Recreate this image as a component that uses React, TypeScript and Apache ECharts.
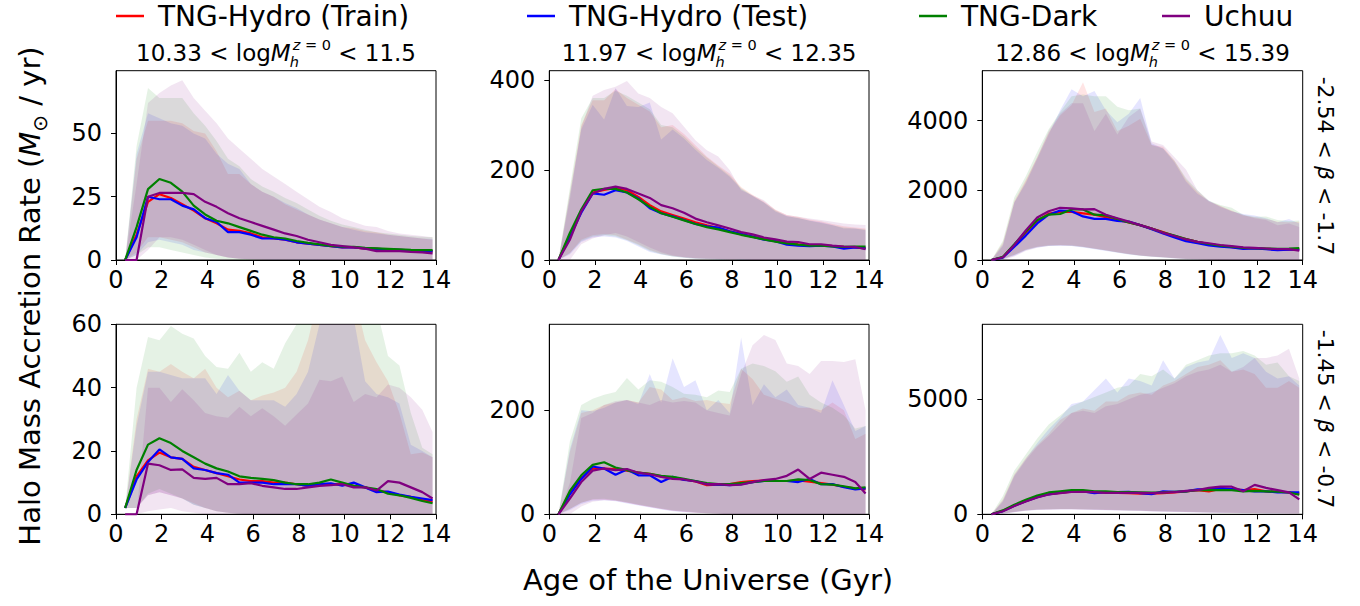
import React, { useEffect, useRef } from 'react';
import * as echarts from 'echarts';

// ---------- data ----------
const NAMES = ['TNG-Hydro (Train)', 'TNG-Hydro (Test)', 'TNG-Dark', 'Uchuu'];
const COLORS = ['#ff0000', '#0000ff', '#008000', '#800080'];
const BAND_COLORS = ['rgba(255,0,0,0.1)', 'rgba(0,0,255,0.1)', 'rgba(0,128,0,0.1)', 'rgba(128,0,128,0.1)'];

// Age of the Universe (Gyr)
const X = [0.4, 0.9, 1.4, 1.9, 2.4, 2.9, 3.4, 3.9, 4.4, 4.9, 5.4, 5.9, 6.4, 6.9, 7.4, 7.9, 8.4, 8.9, 9.4, 9.9, 10.4, 10.9, 11.4, 11.9, 12.4, 12.9, 13.4, 13.85];
const X_TICKS = [0, 2, 4, 6, 8, 10, 12, 14];

const COL_TITLES = [['10.33', '11.5'], ['11.97', '12.35'], ['12.86', '15.39']];
const ROW_LABELS = [['-2.54', '-1.7'], ['-1.45', '-0.7']];
const Y_MAX = [74.8, 420.7, 5432, 60, 365.4, 8261];
const Y_TICKS = [[0, 25, 50], [0, 200, 400], [0, 2000, 4000], [0, 20, 40, 60], [0, 200], [0, 5000]];

// Panel 1: 10.33 < logM < 11.5, -2.54 < beta < -1.7
const p1Train = [0, 10, 23, 26, 24.5, 22, 19.5, 16.5, 14.5, 12, 11.5, 10.5, 9, 8.5, 8, 7, 6.5, 6, 5.5, 5, 5, 4.5, 4.5, 4, 4, 3.8, 3.6, 3.4];
const p1Test = [0, 9, 25, 24, 24, 21.5, 20, 16.5, 15, 11, 11, 10, 8.5, 8.5, 8, 7, 6.5, 6, 5.5, 5, 5, 4.6, 4.4, 4.2, 4, 3.8, 3.6, 3.5];
const p1Dark = [0, 13, 28, 32, 30.5, 27, 21.5, 18, 15.5, 14.5, 13, 11.5, 10, 9, 8.5, 7.5, 6.8, 6.2, 5.6, 5.3, 5.2, 4.8, 4.6, 4.4, 4.2, 4, 3.9, 3.9];
const p1Uchuu = [0, 0, 25, 26.5, 26.5, 26.5, 26, 23, 21, 18.5, 16.5, 15, 13.5, 12, 10.5, 9.5, 8, 7, 6, 5.5, 5, 4.5, 3.5, 3.5, 3.5, 3.2, 3, 2.6];
const p1TrainHi = [0, 40, 55, 55, 55, 54, 51, 50, 43, 34, 34, 30, 27, 25, 22, 20, 18, 16, 14.5, 13, 12.5, 11.5, 11, 10, 9.5, 9, 8.5, 8];
const p1TrainLo = [0, 3, 9, 9, 8, 7, 5, 3, 2, 1, 0.5, 0.3, 0.2, 0.2, 0.1, 0.1, 0.1, 0, 0, 0, 0, 0, 0, 0, 0, 0, 0, 0];
const p1TestHi = [0, 42, 58, 56, 54, 53, 50, 48, 42, 38, 36, 30, 27, 25, 22.5, 20.5, 18, 16, 14.5, 13, 12, 11, 10.5, 10, 9.5, 9, 8.5, 8.3];
const p1TestLo = [0, 2, 7, 8, 7, 6, 4, 3, 2, 1, 0.5, 0.3, 0.2, 0.1, 0.1, 0, 0, 0, 0, 0, 0, 0, 0, 0, 0, 0, 0, 0];
const p1DarkHi = [0, 45, 68, 64, 64, 64, 58, 53, 47, 40, 37, 32, 29, 27, 24.5, 22.5, 20, 17.5, 15.5, 14, 13, 12, 11, 10.5, 10, 9.5, 9.2, 9];
const p1DarkLo = [0, 2, 5, 5, 4, 3, 2, 1, 0.5, 0.3, 0, 0, 0, 0, 0, 0, 0, 0, 0, 0, 0, 0, 0, 0, 0, 0, 0, 0];
const p1UchuuHi = [0, 30, 62, 66, 69, 71, 64, 59, 54, 48, 44, 40, 36, 33, 30, 27, 24, 21, 19, 16.5, 15, 13.5, 13, 11.5, 10.5, 10, 9.5, 9];
const p1UchuuLo = [0, 0, 4, 9, 9, 8, 6, 4, 2, 1, 0.5, 0.2, 0, 0, 0, 0, 0, 0, 0, 0, 0, 0, 0, 0, 0, 0, 0, 0];

// Panel 2: 11.97 < logM < 12.35, -2.54 < beta < -1.7
const p2Train = [0, 55, 108, 150, 156, 160, 155, 140, 122, 108, 100, 92, 84, 77, 71, 64, 57, 52, 47, 42, 38, 35, 33, 33, 31, 29, 28, 27];
const p2Test = [0, 52, 105, 148, 145, 155, 150, 137, 115, 104, 97, 89, 80, 75, 72, 64, 58, 52, 45, 42, 34, 32, 31, 32, 30, 25, 28, 26];
const p2Dark = [0, 60, 112, 155, 158, 158, 150, 135, 118, 104, 96, 88, 80, 73, 68, 62, 56, 51, 46, 41, 37, 34, 32, 32, 30, 29, 30, 30];
const p2Uchuu = [0, 45, 108, 148, 158, 163, 158, 148, 138, 122, 115, 105, 92, 84, 77, 70, 62, 57, 50, 46, 41, 40, 35, 35, 32, 30, 29, 24];
const p2TrainHi = [0, 150, 300, 355, 355, 380, 360, 345, 330, 295, 300, 280, 255, 230, 210, 192, 162, 145, 130, 112, 100, 96, 90, 86, 80, 75, 72, 70];
const p2TrainLo = [0, 15, 45, 55, 58, 55, 45, 35, 22, 14, 9, 6, 4, 3, 2, 1, 1, 0, 0, 0, 0, 0, 0, 0, 0, 0, 0, 0];
const p2TestHi = [0, 145, 290, 345, 312, 382, 342, 340, 350, 268, 290, 270, 245, 222, 205, 185, 158, 142, 128, 108, 98, 93, 88, 84, 78, 70, 70, 66];
const p2TestLo = [0, 12, 40, 50, 52, 50, 42, 30, 18, 12, 8, 5, 3, 2, 1, 1, 0, 0, 0, 0, 0, 0, 0, 0, 0, 0, 0, 0];
const p2DarkHi = [0, 160, 315, 360, 360, 376, 365, 350, 335, 300, 295, 275, 250, 228, 208, 188, 160, 143, 128, 110, 97, 94, 87, 82, 77, 72, 70, 68];
const p2DarkLo = [0, 15, 42, 52, 55, 52, 44, 33, 20, 13, 8, 5, 3, 2, 1, 1, 0, 0, 0, 0, 0, 0, 0, 0, 0, 0, 0, 0];
const p2UchuuHi = [0, 135, 295, 365, 378, 385, 398, 370, 360, 340, 326, 296, 266, 244, 230, 200, 155, 144, 133, 111, 100, 96, 92, 89, 85, 81, 79, 78];
const p2UchuuLo = [0, 0, 35, 48, 55, 60, 52, 40, 28, 17, 10, 6, 4, 3, 2, 1, 1, 0, 0, 0, 0, 0, 0, 0, 0, 0, 0, 0];

// Panel 3: 12.86 < logM < 15.39, -2.54 < beta < -1.7
const p3Train = [0, 80, 420, 780, 1120, 1330, 1380, 1380, 1340, 1300, 1230, 1150, 1080, 1000, 900, 800, 690, 600, 520, 460, 410, 370, 340, 330, 320, 300, 300, 310];
const p3Test = [0, 70, 380, 700, 1050, 1300, 1420, 1400, 1250, 1180, 1180, 1120, 1100, 1000, 880, 760, 650, 540, 480, 420, 380, 360, 320, 330, 310, 280, 300, 300];
const p3Dark = [0, 90, 450, 820, 1150, 1300, 1320, 1450, 1450, 1300, 1280, 1180, 1080, 1000, 900, 790, 700, 600, 520, 460, 410, 380, 350, 340, 330, 320, 330, 340];
const p3Uchuu = [0, 80, 430, 850, 1220, 1400, 1500, 1480, 1450, 1460, 1300, 1200, 1100, 1000, 900, 780, 690, 590, 520, 480, 430, 400, 360, 350, 330, 310, 310, 270];
const p3TrainHi = [0, 500, 1700, 2300, 2950, 3650, 4150, 4450, 5100, 4250, 4350, 3700, 3850, 4050, 3300, 3250, 2850, 2300, 1950, 1680, 1550, 1420, 1280, 1230, 1180, 1100, 1080, 1100];
const p3TrainLo = [0, 30, 150, 300, 380, 420, 430, 420, 380, 330, 280, 220, 170, 130, 100, 80, 50, 30, 20, 10, 0, 0, 0, 0, 0, 0, 0, 0];
const p3TestHi = [0, 450, 1650, 2200, 2900, 3600, 4300, 4900, 4700, 4850, 4300, 3950, 4200, 4650, 3350, 3200, 2800, 2250, 1900, 1700, 1520, 1400, 1320, 1280, 1200, 1080, 1180, 1050];
const p3TestLo = [0, 20, 120, 280, 360, 400, 410, 400, 360, 310, 260, 210, 160, 120, 90, 70, 45, 25, 15, 8, 0, 0, 0, 0, 0, 0, 0, 0];
const p3DarkHi = [0, 550, 1800, 2400, 3100, 3750, 4250, 4700, 4750, 4700, 4700, 4400, 4300, 4350, 3300, 3200, 2850, 2350, 2000, 1700, 1580, 1500, 1300, 1240, 1250, 1150, 1120, 1130];
const p3DarkLo = [0, 30, 140, 290, 370, 410, 420, 410, 370, 320, 270, 215, 165, 125, 95, 75, 50, 28, 18, 9, 0, 0, 0, 0, 0, 0, 0, 0];
const p3UchuuHi = [0, 400, 1650, 2250, 2950, 3700, 4200, 4500, 4500, 3700, 4200, 3600, 4100, 4350, 3400, 3300, 2950, 2600, 2000, 1700, 1550, 1400, 1300, 1200, 1150, 1000, 1050, 950];
const p3UchuuLo = [0, 0, 100, 260, 350, 400, 410, 400, 370, 320, 270, 220, 170, 130, 100, 80, 55, 35, 20, 10, 0, 0, 0, 0, 0, 0, 0, 0];

// Panel 4: 10.33 < logM < 11.5, -1.45 < beta < -0.7
const p4Train = [2, 12, 17, 19.5, 18, 17.5, 15, 14, 13, 12, 11, 10.5, 10.5, 10, 10, 9.5, 9, 9.5, 9.5, 9.5, 9, 8.5, 7.5, 7, 6, 5.5, 4.5, 4];
const p4Test = [2, 11, 16.5, 20.5, 18, 17.5, 14.5, 14, 13, 12.5, 10, 10, 10, 9.5, 9.5, 9.5, 9, 9.5, 9.8, 9, 10, 8.5, 7, 7.2, 6.2, 5.5, 5, 4.5];
const p4Dark = [2, 14, 22, 24, 22.5, 20, 18, 16, 14.5, 13.5, 12, 11.5, 11.2, 10.8, 10, 9.5, 9.5, 10, 11, 10, 9, 8.5, 8, 6.5, 6, 5.2, 4.2, 3.5];
const p4Uchuu = [0, 0, 16, 15.5, 14, 14.2, 11.5, 11.2, 11.5, 9.5, 9.5, 9.8, 9, 8.5, 8, 8, 8.5, 9, 9.2, 9.5, 8.5, 8.5, 7.5, 10.5, 10, 8.5, 7, 5];
const p4TrainHi = [2, 30, 46, 45, 47.5, 45, 43, 46, 40, 37, 39, 36, 37.5, 38.5, 40, 45, 55, 70, 80, 80, 70, 55, 48, 42, 32, 19, 19.5, 18];
const p4TrainLo = [2, 2, 6, 7, 6, 5, 3.5, 2, 1, 0.5, 0.2, 0, 0, 0, 0, 0, 0, 0, 0, 0, 0, 0, 0, 0, 0, 0, 0, 0];
const p4TestHi = [2, 28, 45, 45, 44, 43, 43, 43, 38, 44, 39, 36, 36, 36, 34, 38, 45, 60, 70, 75, 62, 42, 38, 37, 35, 22, 20, 18];
const p4TestLo = [2, 2, 6, 7, 6, 5, 3, 2, 1, 0.5, 0.2, 0, 0, 0, 0, 0, 0, 0, 0, 0, 0, 0, 0, 0, 0, 0, 0, 0];
const p4DarkHi = [2, 40, 56, 55, 59.5, 57, 55.5, 50, 46.5, 46, 51, 45, 48, 46, 54, 60, 70, 80, 85, 85, 80, 75, 65, 50, 47, 32, 21, 19];
const p4DarkLo = [2, 2, 6.5, 8, 6.5, 5, 3, 2, 1, 0.5, 0, 0, 0, 0, 0, 0, 0, 0, 0, 0, 0, 0, 0, 0, 0, 0, 0, 0];
const p4UchuuHi = [0, 0, 40, 40, 35.5, 39.5, 36, 32, 31, 30.5, 34, 31, 33.5, 31, 28, 31.5, 35, 42.5, 42, 43.5, 35.5, 38, 37, 41, 40, 37, 33, 26];
const p4UchuuLo = [0, 0, 1, 1.5, 2, 1, 0.5, 0, 0, 0, 0, 0, 0, 0, 0, 0, 0, 0, 0, 0, 0, 0, 0, 0, 0, 0, 0, 0];

// Panel 5: 11.97 < logM < 12.35, -1.45 < beta < -0.7
const p5Train = [0, 42, 70, 88, 88, 87, 84, 80, 78, 73, 70, 67, 63, 56, 57, 58, 62, 64, 65, 64, 64, 65, 63, 60, 57, 53, 50, 48];
const p5Test = [0, 38, 68, 92, 88, 76, 86, 75, 75, 62, 72, 66, 64, 58, 57, 56, 58, 62, 64, 64, 64, 62, 68, 58, 58, 52, 48, 50];
const p5Dark = [0, 45, 75, 95, 100, 90, 85, 80, 78, 74, 72, 68, 64, 60, 58, 58, 60, 62, 64, 64, 64, 67, 66, 58, 57, 54, 50, 52];
const p5Uchuu = [0, 30, 62, 84, 88, 85, 87, 80, 77, 72, 68, 67, 63, 58, 58, 56, 57, 62, 66, 68, 74, 86, 68, 80, 76, 72, 62, 40];
const p5TrainHi = [0, 120, 195, 200, 210, 215, 220, 215, 245, 240, 220, 225, 218, 220, 215, 212, 280, 260, 230, 222, 215, 205, 205, 200, 215, 200, 145, 155];
const p5TrainLo = [0, 10, 22, 28, 28, 26, 22, 18, 14, 10, 7, 5, 3, 2, 1, 0, 0, 0, 0, 0, 0, 0, 0, 0, 0, 0, 0, 0];
const p5TestHi = [0, 125, 200, 198, 205, 215, 220, 212, 270, 215, 300, 245, 258, 200, 220, 195, 340, 210, 250, 225, 240, 210, 205, 195, 258, 210, 160, 170];
const p5TestLo = [0, 8, 20, 26, 27, 25, 21, 17, 13, 9, 6, 4, 3, 2, 1, 0, 0, 0, 0, 0, 0, 0, 0, 0, 0, 0, 0, 0];
const p5DarkHi = [0, 140, 210, 222, 230, 235, 262, 240, 258, 255, 245, 232, 230, 225, 238, 235, 280, 290, 285, 275, 255, 265, 230, 215, 205, 190, 165, 170];
const p5DarkLo = [0, 10, 22, 29, 30, 27, 23, 19, 15, 11, 8, 6, 4, 2, 1, 0, 0, 0, 0, 0, 0, 0, 0, 0, 0, 0, 0, 0];
const p5UchuuHi = [0, 60, 185, 195, 210, 218, 220, 215, 210, 220, 215, 218, 215, 200, 195, 190, 270, 325, 345, 335, 290, 285, 270, 295, 295, 293, 298, 200];
const p5UchuuLo = [0, 0, 15, 24, 27, 26, 22, 18, 14, 10, 7, 5, 3, 2, 1, 0, 0, 0, 0, 0, 0, 0, 0, 0, 0, 0, 0, 0];

// Panel 6: 12.86 < logM < 15.39, -1.45 < beta < -0.7
const p6Train = [0, 150, 380, 580, 750, 880, 930, 980, 990, 950, 950, 930, 920, 900, 900, 920, 950, 1000, 1050, 1000, 1100, 1100, 1050, 1100, 1000, 980, 950, 900];
const p6Test = [0, 140, 370, 570, 740, 870, 940, 990, 1000, 920, 960, 960, 980, 920, 880, 1000, 980, 1000, 1080, 1100, 1150, 1100, 1050, 1000, 1000, 950, 950, 950];
const p6Dark = [0, 170, 420, 630, 820, 950, 1000, 1050, 1050, 1000, 1000, 970, 960, 950, 940, 950, 980, 1000, 1050, 1050, 1050, 1050, 1000, 1020, 1000, 980, 950, 850];
const p6Uchuu = [0, 130, 360, 560, 730, 860, 920, 970, 980, 960, 930, 930, 930, 930, 920, 940, 960, 1020, 1050, 1150, 1200, 1200, 1000, 1280, 1150, 1050, 950, 650];
const p6TrainHi = [0, 650, 1750, 2450, 3000, 3500, 4100, 4400, 4600, 4500, 4900, 4900, 5200, 5300, 5200, 5600, 5800, 6100, 6400, 6500, 6700, 6200, 6300, 6100, 5500, 5500, 5800, 5500];
const p6TrainLo = [0, 30, 100, 160, 200, 210, 220, 220, 210, 200, 190, 180, 160, 150, 130, 120, 110, 100, 90, 80, 70, 60, 60, 50, 50, 50, 40, 40];
const p6TestHi = [0, 600, 1700, 2400, 3100, 3700, 4200, 4800, 4900, 5400, 5900, 5300, 5900, 5800, 5600, 6700, 5900, 6400, 6600, 6700, 7800, 6800, 7000, 6800, 6200, 5900, 6000, 5600];
const p6TestLo = [0, 25, 90, 150, 190, 200, 210, 210, 200, 190, 180, 170, 150, 140, 120, 110, 100, 90, 80, 70, 60, 60, 50, 50, 40, 40, 40, 30];
const p6DarkHi = [0, 800, 1900, 2600, 3300, 3900, 4300, 4700, 4900, 5100, 5300, 5500, 5600, 6100, 6000, 6300, 5900, 6500, 6700, 6900, 7000, 7000, 7100, 6900, 6500, 6600, 6000, 5800];
const p6DarkLo = [0, 35, 110, 170, 210, 220, 230, 230, 220, 210, 200, 190, 170, 160, 140, 130, 120, 110, 100, 90, 80, 70, 60, 60, 50, 50, 50, 40];
const p6UchuuHi = [0, 550, 1650, 2350, 2950, 3400, 3900, 4400, 4500, 4400, 4700, 4800, 5000, 5200, 5300, 5500, 5700, 6000, 6200, 6300, 6500, 6200, 6400, 6800, 6800, 6900, 7200, 5900];
const p6UchuuLo = [0, 20, 90, 150, 200, 210, 220, 220, 210, 200, 190, 180, 160, 150, 130, 120, 110, 100, 90, 80, 70, 70, 60, 60, 50, 50, 40, 40];

const PANELS = [
  { med: [p1Train, p1Test, p1Dark, p1Uchuu], lo: [p1TrainLo, p1TestLo, p1DarkLo, p1UchuuLo], hi: [p1TrainHi, p1TestHi, p1DarkHi, p1UchuuHi] },
  { med: [p2Train, p2Test, p2Dark, p2Uchuu], lo: [p2TrainLo, p2TestLo, p2DarkLo, p2UchuuLo], hi: [p2TrainHi, p2TestHi, p2DarkHi, p2UchuuHi] },
  { med: [p3Train, p3Test, p3Dark, p3Uchuu], lo: [p3TrainLo, p3TestLo, p3DarkLo, p3UchuuLo], hi: [p3TrainHi, p3TestHi, p3DarkHi, p3UchuuHi] },
  { med: [p4Train, p4Test, p4Dark, p4Uchuu], lo: [p4TrainLo, p4TestLo, p4DarkLo, p4UchuuLo], hi: [p4TrainHi, p4TestHi, p4DarkHi, p4UchuuHi] },
  { med: [p5Train, p5Test, p5Dark, p5Uchuu], lo: [p5TrainLo, p5TestLo, p5DarkLo, p5UchuuLo], hi: [p5TrainHi, p5TestHi, p5DarkHi, p5UchuuHi] },
  { med: [p6Train, p6Test, p6Dark, p6Uchuu], lo: [p6TrainLo, p6TestLo, p6DarkLo, p6UchuuLo], hi: [p6TrainHi, p6TestHi, p6DarkHi, p6UchuuHi] },
];

// ---------- layout ----------
const FONT = "'DejaVu Sans', sans-serif";
const GRID_BOXES = [
  [116, 70.7, 320, 189.3], [549.3, 70.7, 319.7, 189.3], [982.3, 70.7, 320.4, 189.3],
  [116, 324.3, 320, 190], [549.3, 324.3, 319.7, 190], [982.3, 324.3, 320.4, 190],
];
const LEGEND_LEFT = [116, 527, 919, 1162];

let measureCtx: CanvasRenderingContext2D | null = null;
function tw(text: string, size: number, italic = false) {
  if (!measureCtx) measureCtx = document.createElement('canvas').getContext('2d');
  measureCtx!.font = `${italic ? 'italic ' : ''}${size}px 'DejaVu Sans'`;
  return measureCtx!.measureText(text).width;
}

function txt(x: number, y: number, text: string, size: number, italic = false) {
  return {
    type: 'text', x, y, silent: true,
    style: { text, fontSize: size, fontFamily: FONT, fontStyle: italic ? 'italic' : 'normal', fill: '#000', align: 'left', verticalAlign: 'middle' },
  };
}

function titleElements(cx: number, cy: number, lo: string, hi: string) {
  const S = 23, s = 14.5;
  const p1 = `${lo} < log`;
  const p5 = ` < ${hi}`;
  const w1 = tw(p1, S), wM = tw('M', S, true);
  const wSup = tw('z', s, true) + tw(' = 0', s);
  const wSub = tw('h', s, true);
  const w5 = tw(p5, S);
  const scriptW = Math.max(wSup + 2, wSub);
  const W = w1 + wM + scriptW + w5;
  const x0 = cx - W / 2;
  return [
    txt(x0, cy, p1, S),
    txt(x0 + w1, cy, 'M', S, true),
    {
      type: 'text', x: x0 + w1 + wM + 2, y: cy - 7.5, silent: true,
      style: {
        text: '{i|z}{n| = 0}', align: 'left', verticalAlign: 'middle', fill: '#000',
        rich: {
          i: { fontSize: s, fontFamily: FONT, fontStyle: 'italic', fill: '#000' },
          n: { fontSize: s, fontFamily: FONT, fill: '#000' },
        },
      },
    },
    txt(x0 + w1 + wM - 1, cy + 9.5, 'h', s, true),
    txt(x0 + w1 + wM + scriptW, cy, p5, S),
  ];
}

function rowLabel(cx: number, cy: number, lo: string, hi: string) {
  return {
    type: 'text', x: cx, y: cy, rotation: -Math.PI / 2, silent: true,
    style: {
      text: `{n|${lo} < }{b|β}{n| < ${hi}}`, align: 'center', verticalAlign: 'middle', fill: '#000',
      rich: {
        n: { fontSize: 22, fontFamily: FONT, fill: '#000' },
        b: { fontSize: 22, fontFamily: FONT, fontStyle: 'italic', fill: '#000' },
      },
    },
  };
}

function bandSeries(gi: number, lo: number[], hi: number[], color: string) {
  return {
    type: 'custom', xAxisIndex: gi, yAxisIndex: gi, silent: true, z: 1, clip: true,
    data: [[0, 0]],
    renderItem: (params: any, api: any) => {
      const pts: number[][] = [];
      for (let i = 0; i < X.length; i++) pts.push(api.coord([X[i], hi[i]]));
      for (let i = X.length - 1; i >= 0; i--) pts.push(api.coord([X[i], lo[i]]));
      const cs = params.coordSys;
      return {
        type: 'polygon',
        shape: { points: pts },
        style: { fill: color, stroke: 'none' },
        clipPath: { type: 'rect', shape: { x: cs.x, y: cs.y, width: cs.width, height: cs.height } },
      };
    },
  };
}

function buildOption() {
  const grid = GRID_BOXES.map(([l, t, w, h]) => ({
    left: l, top: t, width: w, height: h, show: true, borderColor: '#000', borderWidth: 1, backgroundColor: 'transparent',
  }));
  const xAxis = GRID_BOXES.map((_, gi) => ({
    type: 'value', gridIndex: gi, min: 0, max: 14, interval: 2,
    axisLine: { show: true, onZero: false, lineStyle: { color: '#000', width: 1 } },
    axisTick: { show: true, length: 5, customValues: X_TICKS, lineStyle: { color: '#000' } },
    axisLabel: { fontSize: 24, fontFamily: FONT, color: '#000', margin: 8, customValues: X_TICKS },
    splitLine: { show: false },
  }));
  const yAxis = GRID_BOXES.map((_, gi) => ({
    type: 'value', gridIndex: gi, min: 0, max: Y_MAX[gi],
    interval: Y_TICKS[gi][1] - Y_TICKS[gi][0],
    axisLine: { show: true, onZero: false, lineStyle: { color: '#000', width: 1 } },
    axisTick: { show: true, length: 5, customValues: Y_TICKS[gi], lineStyle: { color: '#000' } },
    axisLabel: {
      fontSize: 24, fontFamily: FONT, color: '#000', margin: 14,
      customValues: Y_TICKS[gi],
      formatter: (v: number) => (Y_TICKS[gi].includes(v) ? String(v) : ''),
    },
    splitLine: { show: false },
  }));

  const series: any[] = [];
  PANELS.forEach((p, gi) => {
    for (let k = 0; k < 4; k++) series.push(bandSeries(gi, p.lo[k], p.hi[k], BAND_COLORS[k]));
  });
  PANELS.forEach((p, gi) => {
    for (let k = 0; k < 4; k++) {
      series.push({
        type: 'line', name: NAMES[k], xAxisIndex: gi, yAxisIndex: gi, z: 3 + k,
        data: X.map((x, i) => [x, p.med[k][i]]),
        showSymbol: false, symbol: 'none', clip: true,
        lineStyle: { color: COLORS[k], width: 2.2 },
        itemStyle: { color: COLORS[k] },
        emphasis: { disabled: true },
      });
    }
  });

  const legend = NAMES.map((n, i) => ({
    data: [n], left: LEGEND_LEFT[i], top: 2, icon: 'rect', itemWidth: 28, itemHeight: 2.5, padding: 0,
    selectedMode: false,
    textStyle: { fontSize: 28, fontFamily: FONT, color: '#000', padding: [0, 0, 0, 9] },
  }));

  const centers = [0, 1, 2].map((c) => GRID_BOXES[c][0] + GRID_BOXES[c][2] / 2);
  const graphic: any[] = [];
  COL_TITLES.forEach(([lo, hi], c) => graphic.push(...titleElements(centers[c], 52.5, lo, hi)));
  ROW_LABELS.forEach(([lo, hi], r) => graphic.push(rowLabel(1325, r === 0 ? 166 : 419, lo, hi)));
  graphic.push({
    type: 'text', x: 30, y: 296, rotation: Math.PI / 2, silent: true,
    style: {
      text: '{n|Halo Mass Accretion Rate (}{i|M}{s|⊙}{n| / yr)}', align: 'center', verticalAlign: 'middle', fill: '#000',
      rich: {
        n: { fontSize: 29, fontFamily: FONT, fill: '#000', lineHeight: 40 },
        i: { fontSize: 29, fontFamily: FONT, fontStyle: 'italic', fill: '#000', lineHeight: 40 },
        s: { fontSize: 20, fontFamily: FONT, fill: '#000', verticalAlign: 'bottom', lineHeight: 28 },
      },
    },
  });
  graphic.push({
    type: 'text', x: 708, y: 580, silent: true,
    style: { text: 'Age of the Universe (Gyr)', fontSize: 29, fontFamily: FONT, fill: '#000', align: 'center', verticalAlign: 'middle' },
  });

  return {
    animation: false,
    backgroundColor: '#fff',
    textStyle: { fontFamily: FONT },
    legend, grid, xAxis, yAxis, series, graphic,
  };
}

export default function App() {
  const ref = useRef<HTMLDivElement>(null);
  useEffect(() => {
    if (!ref.current) return;
    const chart = echarts.init(ref.current, null, { renderer: 'svg' });
    chart.setOption(buildOption() as any);
    return () => chart.dispose();
  }, []);
  return <div ref={ref} style={{ position: 'fixed', left: 0, top: 0, width: 1360, height: 606, background: '#fff' }} />;
}
